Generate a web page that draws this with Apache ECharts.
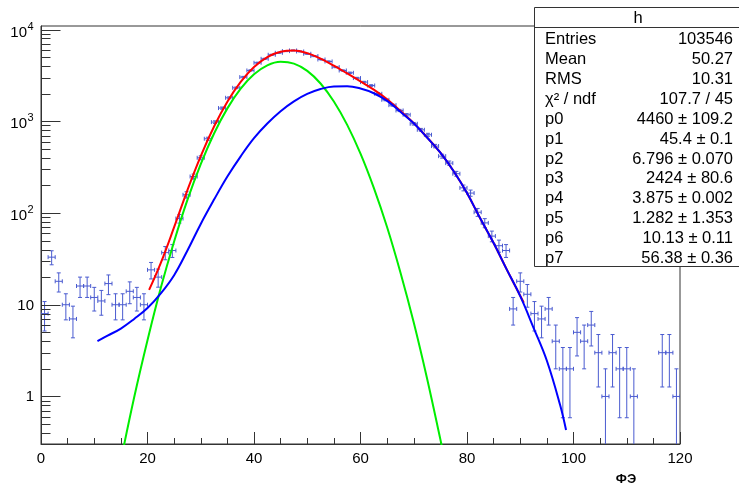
<!DOCTYPE html>
<html>
<head>
<meta charset="utf-8">
<script src="https://cdn.jsdelivr.net/npm/echarts@6/dist/echarts.min.js"></script>
<style>html,body{margin:0;padding:0;background:#fff}#c{width:739px;height:486px}</style>
</head>
<body>
<div id="c"></div>
<script>
// ---- axis ranges ----
const xMin = 0, xMax = 120, nBins = 90;
const yMin = 0.303, yMax = 10940;
const xTickInterval = 20;

// ---- histogram "h" bin contents (90 bins, 0..120) ----
const counts = [8,33,18,10,7,16,16,12,11,17,10,10,14,12,10,
  24,20,37,39,
  87,158,250,400,645,980,1393,1804,2317,3034,3581,
  4345,4800,5310,5580,5825,5915,5770,5445,5140,4720,
  4490,3900,3580,3380,2960,2675,2456,1995,1715,1500,
  1312,1178,940,808,713,537,417,350,268,188,
  165,102,78,56,44,39,9,18,13,8,
  7,9,4,2,2,5,4,6,3,1,
  3,2,2,1,0,0,0,3,3,1];

// ---- fit curves ----
const redX = [20.3,22.5,25,27.5,30,32.5,35,37.5,40,42.5,45,47.5,50,52.5,55,57.5,60,62.5,65,67.5,70,72.5,75,77.5,80,82.5,85,87.5,90.67];
const redY = [14.5,28.6,70,178,418,877,1633,2684,3907,5018,5740,5902,5534,4834,4044,3325,2721,2211,1740,1292,956,667,455,285,165,87,47,24,10.5];

const greenX = [15,17.5,20,22.5,25,27.5,30,32.5,35,37.5,40,42.5,45,47.5,50,52.5,55,57.5,60,62.5,65,67.5,70,72.5,75,76];
const greenY = [0.2,0.98,4.1,15.3,49,139,342,737,1383,2269,3252,4072,4452,4252,3546,2584,1644,914,444,188,70,22.5,6.4,1.57,0.34,0.18];

const blueX = [10.6,12.5,15,17.5,20,22.5,25,27.5,30,32.5,35,37.5,40,42.5,45,47.5,50,52.5,55,57.5,60,62.5,65,67.5,70,72.5,75,77.5,80,82.5,85,87.5,90,92.5,95,97.5,98.6];
const blueY = [4.0,4.6,5.5,7.0,9.2,13.3,21,39,76,140,250,415,655,946,1288,1650,1988,2250,2400,2411,2277,2023,1670,1270,950,665,455,285,165,87,47,24,12.4,5.6,2.45,0.8,0.43];

// ---- y axis ticks / labels ----
const yMajorTicks = [1,10,100,1000,10000];
const yLabelBase = ['1','10','10','10','10'];
const yLabelSup  = ['','','2','3','4'];
const yMinorTicks = [0.4,0.5,0.6,0.7,0.8,0.9,2,3,4,5,6,7,8,9,20,30,40,50,60,70,80,90,200,300,400,500,600,700,800,900,2000,3000,4000,5000,6000,7000,8000,9000];

// ---- stats box ----
const statTitle = 'h';
const statNames  = ['Entries','Mean','RMS','χ² / ndf','p0','p1','p2','p3','p4','p5','p6','p7'];
const statValues = ['103546','50.27','10.31','107.7 / 45','4460 ± 109.2','45.4 ± 0.1','6.796 ± 0.070','2424 ± 80.6','3.875 ± 0.002','1.282 ± 1.353','10.13 ± 0.11','56.38 ± 0.36'];
const xTitle = 'ФЭ';

// ---- styles ----
const FONT = '"Liberation Sans", Arial, Helvetica, sans-serif';
const AXIS_COLOR = '#333';
const ERR_COLOR = '#4a5bd0';

const binWidth = (xMax - xMin) / nBins;
const errData = [];
for (let i = 0; i < nBins; i++) {
  if (counts[i] > 0) {
    errData.push([xMin + (i + 0.5) * binWidth, counts[i], binWidth / 2, Math.sqrt(counts[i])]);
  }
}
const zip = (xs, ys) => xs.map((x, i) => [x, ys[i]]);

function renderErrors(params, api) {
  const x = api.value(0), y = api.value(1), hx = api.value(2), ey = api.value(3);
  const c = api.coord([x, y]);
  const l = api.coord([x - hx, y]);
  const r = api.coord([x + hx, y]);
  const t = api.coord([x, y + ey]);
  const lowV = y - ey;
  const cs = params.coordSys;
  const b = lowV > 0 ? api.coord([x, lowV]) : [c[0], cs.y + cs.height + 5];
  const st = {stroke: ERR_COLOR, lineWidth: 1};
  const ch = [
    {type: 'line', shape: {x1: l[0], y1: c[1], x2: r[0], y2: c[1]}, style: st},
    {type: 'line', shape: {x1: c[0], y1: t[1], x2: c[0], y2: b[1]}, style: st},
    {type: 'line', shape: {x1: l[0], y1: c[1] - 2, x2: l[0], y2: c[1] + 2}, style: st},
    {type: 'line', shape: {x1: r[0], y1: c[1] - 2, x2: r[0], y2: c[1] + 2}, style: st},
    {type: 'line', shape: {x1: c[0] - 2, y1: t[1], x2: c[0] + 2, y2: t[1]}, style: st}
  ];
  if (lowV > 0) ch.push({type: 'line', shape: {x1: c[0] - 2, y1: b[1], x2: c[0] + 2, y2: b[1]}, style: st});
  return {type: 'group', children: ch};
}

function renderYAxis(params, api) {
  const x0 = Math.round(params.coordSys.x) + 0.5;
  const ch = [];
  const st = {stroke: AXIS_COLOR, lineWidth: 1};
  yMinorTicks.forEach(v => {
    const y = Math.round(api.coord([0, v])[1]) + 0.5;
    ch.push({type: 'line', shape: {x1: x0, y1: y, x2: x0 + 9, y2: y}, style: st});
  });
  yMajorTicks.forEach((v, i) => {
    const y = Math.round(api.coord([0, v])[1]) + 0.5;
    ch.push({type: 'line', shape: {x1: x0, y1: y, x2: x0 + 19, y2: y}, style: st});
    if (yLabelSup[i]) {
      ch.push({type: 'text', x: x0 - 14.5, y: y + 2, style: {text: yLabelBase[i], font: '15px ' + FONT, fill: '#000', align: 'right', verticalAlign: 'middle'}});
      ch.push({type: 'text', x: x0 - 14, y: y - 3.5, style: {text: yLabelSup[i], font: '11px ' + FONT, fill: '#000', align: 'left', verticalAlign: 'middle'}});
    } else {
      ch.push({type: 'text', x: x0 - 7.5, y: y + 0.5, style: {text: yLabelBase[i], font: '15px ' + FONT, fill: '#000', align: 'right', verticalAlign: 'middle'}});
    }
  });
  return {type: 'group', children: ch};
}

// stats box graphics
const boxLeft = 534.5, boxTop = 7.5, boxBottom = 266.5, rowH = 19.95, firstRow = 39.3;
const graphics = [
  {type: 'rect', z: 100, shape: {x: boxLeft, y: boxTop, width: 220, height: boxBottom - boxTop}, style: {fill: '#fff', stroke: AXIS_COLOR, lineWidth: 1}},
  {type: 'line', z: 101, shape: {x1: boxLeft, y1: 27.5, x2: 745, y2: 27.5}, style: {stroke: AXIS_COLOR, lineWidth: 1}},
  {type: 'text', z: 101, x: 638, y: 18, style: {text: statTitle, font: '16.5px ' + FONT, fill: '#000', align: 'center', verticalAlign: 'middle'}},
  {type: 'text', z: 101, x: 626, y: 479, style: {text: xTitle, font: 'bold 13px ' + FONT, fill: '#000', align: 'center', verticalAlign: 'middle'}}
];
statNames.forEach((n, i) => {
  const y = firstRow + i * rowH;
  graphics.push({type: 'text', z: 101, x: 545, y: y, style: {text: n, font: '16.5px ' + FONT, fill: '#000', align: 'left', verticalAlign: 'middle'}});
  graphics.push({type: 'text', z: 101, x: 733, y: y, style: {text: statValues[i], font: '16.5px ' + FONT, fill: '#000', align: 'right', verticalAlign: 'middle'}});
});

const chart = echarts.init(document.getElementById('c'), null, {renderer: 'canvas'});
chart.setOption({
  animation: false,
  backgroundColor: '#fff',
  grid: {left: 41, right: 59, top: 26, bottom: 42, show: true, borderColor: AXIS_COLOR, borderWidth: 1, backgroundColor: 'transparent'},
  xAxis: {
    type: 'value', min: xMin, max: xMax, interval: xTickInterval,
    axisLine: {show: true, lineStyle: {color: AXIS_COLOR, width: 1}},
    axisTick: {show: true, inside: true, length: 12, lineStyle: {color: AXIS_COLOR}},
    minorTick: {show: true, splitNumber: 4, length: 6, lineStyle: {color: AXIS_COLOR}},
    axisLabel: {color: '#000', fontSize: 15, fontFamily: FONT, margin: 7},
    splitLine: {show: false}
  },
  yAxis: {
    type: 'log', logBase: 10, min: yMin, max: yMax,
    axisLine: {show: true, lineStyle: {color: AXIS_COLOR, width: 1}},
    axisTick: {show: false}, axisLabel: {show: false}, splitLine: {show: false}
  },
  graphic: graphics,
  series: [
    {type: 'custom', name: 'yaxis', silent: true, clip: false, data: [[1, 1]], renderItem: renderYAxis, z: 5},
    {type: 'custom', name: 'h', silent: true, clip: true, data: errData, renderItem: renderErrors, z: 2},
    {type: 'line', name: 'total', data: zip(redX, redY), showSymbol: false, smooth: 0.4, clip: true, lineStyle: {color: '#ff0000', width: 2}, z: 3},
    {type: 'line', name: 'g1', data: zip(greenX, greenY), showSymbol: false, smooth: 0.4, clip: true, lineStyle: {color: '#00ee00', width: 2}, z: 3},
    {type: 'line', name: 'g2', data: zip(blueX, blueY), showSymbol: false, smooth: 0.4, clip: true, lineStyle: {color: '#0000ff', width: 2}, z: 3}
  ]
});
</script>
</body>
</html>
